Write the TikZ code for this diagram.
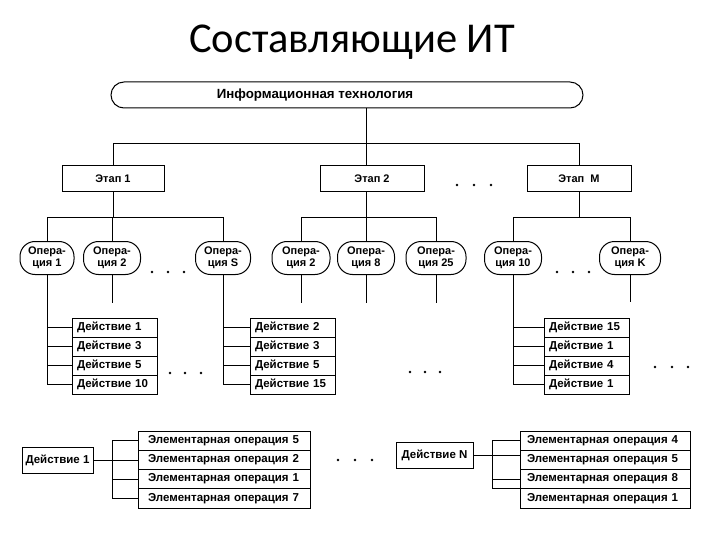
\documentclass[tikz,border=0pt]{standalone}
\usepackage{fontspec}
\setmainfont{Liberation Sans}
\newfontfamily\titlefont{Carlito}
\begin{document}
\begin{tikzpicture}[x=1pt,y=-1pt,
  line width=0.9pt,
  every node/.style={font=\fontsize{11.5}{12}\selectfont\bfseries},
  box/.style={draw, line width=1pt, inner sep=0pt, minimum height=26pt},
  opnode/.style={draw, line width=1pt, rounded corners=15pt, minimum height=33pt, inner sep=0pt, align=center, font=\fontsize{11}{12.5}\selectfont\bfseries},
  act/.style={draw, line width=1pt, minimum width=85pt, minimum height=19pt, text width=75pt, inner sep=0pt, align=left},
  elem/.style={draw, line width=1pt, minimum height=19.25pt, inner sep=0pt, align=left},
  dotc/.style={fill, circle, inner sep=0pt, minimum size=2.6pt}
]
\useasboundingbox (0,0) rectangle (720,540);

% title
\node[font=\titlefont\fontsize{42.5}{45}\selectfont] (title) at (352,42) {Составляющие ИТ};

% top
\node[box, rounded corners=13pt, minimum width=472pt, font=\fontsize{13.3}{14}\selectfont\bfseries] (it) at (347,95) {Информационная технология\hspace*{64pt}};

% stages
\node[box, minimum width=102pt, font=\fontsize{11}{12}\selectfont\bfseries] (e1) at (113,179) {Этап 1};
\node[box, minimum width=104pt, font=\fontsize{11}{12}\selectfont\bfseries] (e2) at (372,179) {Этап 2};
\node[box, minimum width=104pt, font=\fontsize{11}{12}\selectfont\bfseries] (e3) at (579,179) {Этап\ \ M};
\coordinate (busy) at (0,143);

% operations
\node[opnode, minimum width=54pt] (o1) at (47,258) {Опера-\\ция 1};
\node[opnode, minimum width=57pt] (o2) at (112,258) {Опера-\\ция 2};
\node[opnode, minimum width=55pt] (oS) at (223,258) {Опера-\\ция S};
\node[opnode, minimum width=58pt] (o2b) at (301,258) {Опера-\\ция 2};
\node[opnode, minimum width=57pt] (o8) at (366,258) {Опера-\\ция 8};
\node[opnode, minimum width=60pt] (o25) at (436,258) {Опера-\\ция 25};
\node[opnode, minimum width=57pt] (o10) at (513,258) {Опера-\\ция 10};
\node[opnode, minimum width=61pt] (oK) at (630,258) {Опера-\\ция K};
\coordinate (bus1) at (0,217);

% stage connections
\draw (it.south -| o8) -- (e2.north -| o8);
\draw (e1.north) -- (e1.north |- busy) -- (e3.north |- busy) -- (e3.north);
\draw (e1.south) -- (e1.south |- bus1);
\draw (o1.north) -- (o1.north |- bus1) -- (oS.north |- bus1) -- (oS.north);
\draw (o2.north) -- (o2.north |- bus1);
\draw (e2.south -| o8) -- (o8.north);
\draw (o2b.north) -- (o2b.north |- bus1) -- (o25.north |- bus1) -- (o25.north);
\draw (e3.south) -- (e3.south |- bus1);
\draw (o10.north) -- (o10.north |- bus1) -- (oK.north |- bus1) -- (oK.north);

% stubs
\coordinate (s2) at ([yshift=-28pt]o2.south);
\coordinate (s2b) at ([yshift=-28pt]o2b.south);
\coordinate (s8) at ([yshift=-28pt]o8.south);
\coordinate (s25) at ([yshift=-28pt]o25.south);
\coordinate (sK) at ([yshift=-27pt]oK.south);
\draw (o2.south) -- (s2);
\draw (o2b.south) -- (s2b);
\draw (o8.south) -- (s8);
\draw (o25.south) -- (s25);
\draw (oK.south) -- (sK);

% actions
\foreach \n/\t [count=\i] in {a1/1, a2/3, a3/5, a4/10} {
  \node[act] (A\n) at (114.5, 308.5+19*\i) {Действие \t};
}
\foreach \n/\t [count=\i] in {a1/2, a2/3, a3/5, a4/15} {
  \node[act] (S\n) at (292.5, 308.5+19*\i) {Действие \t};
}
\foreach \n/\t [count=\i] in {a1/15, a2/1, a3/4, a4/1} {
  \node[act] (M\n) at (586.5, 308.5+19*\i) {Действие \t};
}
\foreach \n in {a1,a2,a3,a4} {
  \draw (o1.south) |- (A\n.west);
  \draw (oS.south) |- (S\n.west);
  \draw (o10.south) |- (M\n.west);
}

% elementary operations
\node[box, minimum width=71pt] (d1) at (57.5,460) {Действие 1};
\foreach \t [count=\i] in {5,2,1,7} {
  \node[elem, minimum width=172pt, text width=152pt] (E\i) at (224, 421.4+19.25*\i) {Элементарная операция \t};
}
\coordinate (b1) at (112,0);
\draw (d1.east) -- (d1.east -| E2.west);
\draw (E1.west) -- (E1.west -| b1) -- (E4.west -| b1) -- (E4.west);
\draw (E3.west -| b1) -- (E3.west);

\node[box, minimum width=77pt] (dN) at (434.5,455) {Действие N};
\foreach \t [count=\i] in {4,5,8,1} {
  \node[elem, minimum width=170pt, text width=156pt] (N\i) at (605, 421.4+19.25*\i) {Элементарная операция \t};
}
\coordinate (b2) at (492,0);
\draw (dN.east) -- (dN.east -| N2.west);
\draw (N1.west) -- (N1.west -| b2) -- (N4.north west -| b2) -- (N4.north west);
\draw (N3.west -| b2) -- (N3.west);

% dots
\foreach \x in {457,474,491} \node[dotc] at (\x,185) {};
\foreach \x in {152,168,184} \node[dotc] at (\x,272) {};
\foreach \x in {557,573,589} \node[dotc] at (\x,272) {};
\foreach \x in {170,185,201} \node[dotc] at (\x,373) {};
\foreach \x in {410,425,440} \node[dotc] at (\x,372) {};
\foreach \x in {655,672,688} \node[dotc] at (\x,367) {};
\foreach \x in {338,355,372} \node[dotc] at (\x,460) {};
\end{tikzpicture}
\end{document}
